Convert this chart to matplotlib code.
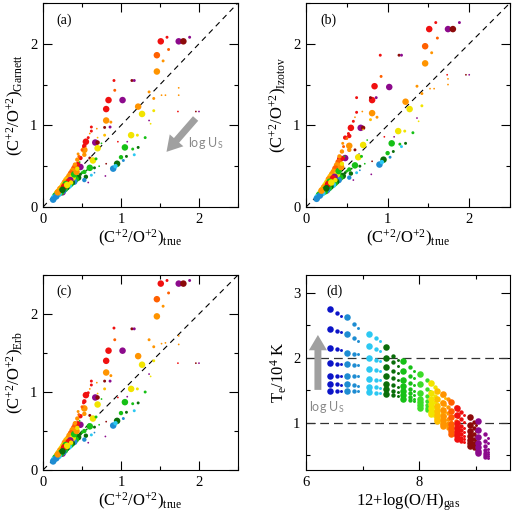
import numpy as np
import matplotlib
matplotlib.use("Agg")
from matplotlib import pyplot as plt
from matplotlib.ticker import MultipleLocator

# colour codes: metallicity groups, low -> high
palette = {
    "B": "#0c14c8", "SB": "#1e8cd2", "CY": "#2cc8f2", "DG": "#0a6e0a",
    "G": "#16c016", "LG": "#3cdc28", "Y": "#f2e400", "YO": "#ffbe00",
    "O": "#ff9400", "OR": "#ff6000", "R": "#f01010", "DR": "#8c0a0a",
    "P": "#8c0a8c",
}
sizes = {"L": 22, "M": 10, "S": 4.5, "T": 1.6}

# ---- panels a-c: C+2/O+2 true vs. estimates ----
c_true = [1.51, 1.59, 1.74, 1.80, 1.88, 1.61, 1.46, 1.54, 1.46, 0.91,
          1.14, 1.17, 0.92, 0.84, 1.02, 0.81, 0.81, 0.87, 0.79, 0.86,
          0.62, 0.62, 0.69, 0.79, 1.22, 1.36, 1.42, 1.27, 1.42, 1.52,
          1.57, 1.74, 1.74, 1.73, 1.96, 2.00, 1.36, 1.38, 1.13, 1.21,
          1.31, 0.96, 1.08, 1.05, 1.15, 1.22, 1.17, 1.00, 1.07, 1.03,
          0.95, 0.90, 0.93, 0.55, 0.67, 0.70, 0.70, 0.53, 0.53, 0.53,
          0.48, 0.60, 0.64, 0.68, 0.81, 0.80, 0.60, 0.66, 0.53, 0.55,
          0.48, 0.53, 0.62, 0.31, 0.25,
          0.45, 0.42, 0.40, 0.38, 0.36, 0.34, 0.32, 0.30, 0.28, 0.26,
          0.24, 0.22, 0.20, 0.18, 0.16, 0.14, 0.13,
          0.45, 0.42, 0.40, 0.37, 0.35, 0.33, 0.30, 0.28, 0.26, 0.23,
          0.20, 0.17,
          0.38, 0.40, 0.35, 0.43, 0.44, 0.33, 0.29, 0.27, 0.22, 0.19,
          0.25, 0.36, 0.31,
          0.50, 0.58, 0.47, 0.56, 0.66, 0.72, 0.41, 0.44, 0.46, 0.45,
          0.50, 0.52, 0.58, 0.60, 0.70, 0.75, 0.48]
c_garnett = [2.03, 2.08, 2.03, 2.03, 2.08, 1.93, 1.86, 1.79, 1.66, 1.55,
             1.55, 1.55, 1.43, 1.31, 1.31, 1.20, 1.06, 1.04, 0.975, 0.98,
             0.98, 0.93, 0.96, 0.88, 1.23, 1.41, 1.33, 1.14, 1.18, 1.37,
             1.37, 1.46, 1.37, 1.17, 1.17, 1.17, 1.06, 1.02, 0.88, 0.88,
             0.85, 0.80, 0.80, 0.73, 0.71, 0.73, 0.64, 0.61, 0.62, 0.57,
             0.53, 0.47, 0.50, 0.80, 0.79, 0.79, 0.72, 0.75, 0.70, 0.64,
             0.60, 0.60, 0.57, 0.59, 0.53, 0.38, 0.48, 0.48, 0.43, 0.37,
             0.49, 0.33, 0.39, 0.25, 0.18,
             0.53, 0.50, 0.47, 0.44, 0.41, 0.38, 0.35, 0.33, 0.30, 0.27,
             0.24, 0.22, 0.19, 0.17, 0.14, 0.11, 0.09,
             0.36, 0.34, 0.31, 0.30, 0.28, 0.26, 0.24, 0.22, 0.20, 0.18,
             0.16, 0.13,
             0.36, 0.40, 0.33, 0.43, 0.47, 0.31, 0.28, 0.25, 0.20, 0.18,
             0.21, 0.30, 0.27,
             0.42, 0.30, 0.55, 0.45, 0.42, 0.50, 0.52, 0.58, 0.62, 0.65,
             0.70, 0.74, 0.85, 0.90, 0.85, 0.78, 0.40]
c_izotov = [2.18, 2.26, 2.18, 2.18, 2.26, 2.07, 1.97, 1.89, 1.76, 1.86,
            1.86, 1.86, 1.60, 1.48, 1.47, 1.31, 1.15, 1.10, 1.34, 1.34,
            1.34, 1.16, 1.17, 1.07, 1.29, 1.48, 1.39, 1.20, 1.24, 1.45,
            1.45, 1.50, 1.57, 1.62, 1.62, 1.62, 1.09, 1.05, 0.93, 0.93,
            0.91, 0.86, 0.86, 0.78, 0.77, 0.78, 0.74, 0.66, 0.68, 0.61,
            0.58, 0.52, 0.55, 0.97, 0.97, 0.97, 0.76, 0.87, 0.75, 0.70,
            0.85, 0.70, 0.61, 0.62, 0.56, 0.40, 0.51, 0.50, 0.46, 0.41,
            0.60, 0.36, 0.42, 0.27, 0.20,
            0.60, 0.59, 0.55, 0.51, 0.47, 0.43, 0.40, 0.37, 0.34, 0.30,
            0.27, 0.24, 0.21, 0.18, 0.15, 0.12, 0.10,
            0.38, 0.36, 0.33, 0.31, 0.29, 0.27, 0.25, 0.23, 0.21, 0.19,
            0.17, 0.14,
            0.40, 0.44, 0.37, 0.49, 0.53, 0.35, 0.31, 0.28, 0.22, 0.20,
            0.23, 0.33, 0.30,
            0.44, 0.33, 0.62, 0.47, 0.45, 0.53, 0.62, 0.68, 0.74, 0.78,
            0.84, 0.90, 1.05, 1.10, 0.95, 0.82, 0.42]
c_erb = [2.39, 2.43, 2.39, 2.39, 2.43, 2.27, 2.19, 2.10, 1.97, 1.82,
         1.81, 1.81, 1.67, 1.53, 1.53, 1.40, 1.25, 1.21, 1.14, 1.14,
         1.14, 1.09, 1.12, 1.04, 1.46, 1.67, 1.58, 1.35, 1.40, 1.62,
         1.63, 1.72, 1.61, 1.37, 1.37, 1.37, 1.23, 1.20, 1.04, 1.04,
         1.00, 0.93, 0.94, 0.87, 0.85, 0.86, 0.76, 0.73, 0.74, 0.66,
         0.63, 0.57, 0.60, 0.96, 0.93, 0.93, 0.84, 0.88, 0.79, 0.72,
         0.69, 0.70, 0.66, 0.68, 0.62, 0.43, 0.56, 0.55, 0.50, 0.44,
         0.58, 0.39, 0.45, 0.29, 0.21,
         0.60, 0.58, 0.54, 0.51, 0.47, 0.44, 0.40, 0.38, 0.35, 0.31,
         0.28, 0.25, 0.22, 0.19, 0.16, 0.13, 0.11,
         0.42, 0.39, 0.36, 0.34, 0.32, 0.30, 0.28, 0.25, 0.23, 0.21,
         0.18, 0.15,
         0.41, 0.46, 0.38, 0.50, 0.54, 0.36, 0.32, 0.29, 0.23, 0.20,
         0.24, 0.35, 0.31,
         0.48, 0.35, 0.63, 0.52, 0.48, 0.58, 0.60, 0.66, 0.71, 0.75,
         0.81, 0.86, 0.99, 1.04, 0.98, 0.91, 0.46]
c_col = ["R", "R", "P", "DR", "P", "OR", "OR", "O", "O", "R",
         "DR", "P", "OR", "R", "P", "R", "O", "O", "DR", "P",
         "R", "R", "O", "YO", "O", "O", "O", "Y", "Y", "O",
         "O", "O", "O", "R", "DR", "P", "P", "Y", "Y", "Y",
         "G", "R", "P", "G", "G", "DG", "CY", "G", "DG", "SB",
         "DG", "SB", "CY", "R", "P", "DR", "Y", "R", "O", "O",
         "R", "DR", "Y", "G", "DR", "P", "G", "DG", "G", "DG",
         "P", "SB", "CY", "P", "P",
         "R", "R", "OR", "O", "OR", "O", "O", "YO", "O", "YO",
         "Y", "O", "YO", "Y", "G", "CY", "SB",
         "DG", "G", "SB", "DG", "G", "CY", "DG", "G", "SB", "G",
         "CY", "SB",
         "Y", "G", "P", "O", "Y", "R", "G", "R", "G", "O",
         "DG", "Y", "Y",
         "G", "P", "G", "DG", "SB", "G", "O", "O", "OR", "O",
         "OR", "R", "R", "O", "YO", "G", "DG"]
c_size = ["L", "S", "L", "L", "S", "S", "L", "S", "L", "S",
          "S", "S", "S", "L", "L", "L", "L", "S", "S", "S",
          "S", "S", "T", "S", "L", "S", "S", "L", "S", "T",
          "T", "T", "T", "T", "T", "T", "T", "T", "L", "S",
          "S", "T", "T", "L", "S", "S", "S", "M", "S", "S",
          "L", "L", "M", "L", "L", "M", "L", "M", "L", "M",
          "M", "S", "L", "S", "T", "T", "L", "S", "M", "M",
          "L", "M", "S", "L", "L",
          "M", "L", "L", "L", "L", "L", "L", "L", "L", "L",
          "L", "L", "L", "L", "L", "L", "L",
          "L", "L", "L", "L", "L", "L", "L", "L", "L", "L",
          "L", "L",
          "L", "L", "L", "L", "M", "L", "L", "L", "M", "L",
          "L", "M", "L",
          "S", "T", "T", "T", "T", "T", "M", "M", "S", "S",
          "S", "S", "S", "T", "T", "T", "S"]

# ---- panel d: Te vs gas-phase O/H, 7 log U values per group ----
d_groups = ["B", "SB", "CY", "DG", "G", "LG", "Y", "YO", "O", "OR", "R", "DR", "P"]
d_x = [[6.42, 6.55, 6.62], [6.72, 6.84, 6.92], [7.12, 7.24, 7.31],
       [7.41, 7.54, 7.62], [7.72, 7.84, 7.91], [8.02, 8.13, 8.18],
       [8.20, 8.28, 8.33], [8.32, 8.40, 8.45], [8.42, 8.50, 8.55],
       [8.56, 8.64, 8.69], [8.66, 8.74, 8.79], [8.89, 8.96, 9.00],
       [9.03, 9.16, 9.22]]
d_te_big = [[2.74, 2.44, 2.15, 1.91, 1.72, 1.59, 1.49],
            [2.62, 2.36, 2.07, 1.90, 1.72, 1.59, 1.49],
            [2.37, 2.18, 2.00, 1.82, 1.67, 1.55, 1.47],
            [2.16, 1.99, 1.85, 1.71, 1.60, 1.51, 1.44],
            [1.95, 1.79, 1.66, 1.56, 1.48, 1.42, 1.37],
            [1.74, 1.60, 1.46, 1.37, 1.31, 1.27, 1.23],
            [1.61, 1.46, 1.36, 1.28, 1.22, 1.16, 1.13],
            [1.49, 1.36, 1.26, 1.18, 1.11, 1.06, 1.02],
            [1.44, 1.30, 1.19, 1.10, 1.04, 0.98, 0.95],
            [1.31, 1.18, 1.08, 0.98, 0.92, 0.87, 0.82],
            [1.23, 1.11, 1.00, 0.92, 0.86, 0.81, 0.75],
            [1.08, 0.97, 0.87, 0.79, 0.73, 0.68, 0.64],
            [1.03, 0.89, 0.78, 0.68, 0.62, 0.56, 0.53]]
d_te_mid = [[2.68, 2.41, 2.13, 1.90, 1.72, 1.59, 1.49],
            [2.52, 2.30, 2.06, 1.89, 1.72, 1.58, 1.48],
            [2.30, 2.13, 1.97, 1.81, 1.66, 1.54, 1.46],
            [2.02, 1.93, 1.80, 1.68, 1.58, 1.49, 1.43],
            [1.85, 1.72, 1.61, 1.52, 1.45, 1.39, 1.35],
            [1.65, 1.52, 1.41, 1.33, 1.27, 1.23, 1.20],
            [1.55, 1.41, 1.31, 1.24, 1.18, 1.13, 1.10],
            [1.43, 1.31, 1.21, 1.13, 1.07, 1.02, 0.99],
            [1.37, 1.24, 1.14, 1.06, 1.00, 0.95, 0.92],
            [1.24, 1.12, 1.03, 0.94, 0.88, 0.83, 0.79],
            [1.16, 1.05, 0.95, 0.88, 0.82, 0.77, 0.72],
            [1.01, 0.91, 0.82, 0.75, 0.69, 0.65, 0.61],
            [0.82, 0.72, 0.64, 0.58, 0.53, 0.50, 0.47]]
d_te_small = [[2.64, 2.39, 2.11, 1.90, 1.72, 1.58, 1.49],
              [2.45, 2.25, 2.05, 1.88, 1.71, 1.57, 1.48],
              [2.25, 2.10, 1.95, 1.80, 1.65, 1.53, 1.45],
              [1.96, 1.87, 1.76, 1.65, 1.55, 1.47, 1.41],
              [1.80, 1.68, 1.58, 1.49, 1.43, 1.37, 1.33],
              [1.60, 1.48, 1.38, 1.30, 1.25, 1.21, 1.18],
              [1.50, 1.37, 1.28, 1.21, 1.15, 1.10, 1.07],
              [1.38, 1.27, 1.17, 1.10, 1.04, 0.99, 0.96],
              [1.32, 1.20, 1.10, 1.02, 0.97, 0.92, 0.89],
              [1.19, 1.08, 0.99, 0.91, 0.85, 0.80, 0.77],
              [1.11, 1.01, 0.92, 0.85, 0.79, 0.74, 0.70],
              [0.96, 0.87, 0.79, 0.72, 0.66, 0.62, 0.59],
              [0.76, 0.68, 0.60, 0.55, 0.51, 0.48, 0.45]]

plt.rcParams["font.family"] = "Liberation Serif"
plt.rcParams["mathtext.fontset"] = "custom"
plt.rcParams["mathtext.rm"] = "Liberation Serif"
plt.rcParams["mathtext.it"] = "Liberation Serif:italic"
plt.rcParams["mathtext.sf"] = "Lato"


def style(ax):
    ax.tick_params(which="both", direction="in", top=True, right=True,
                   labelsize=10.5, pad=4, width=0.8)
    ax.tick_params(which="major", length=6.5)
    ax.tick_params(which="minor", length=3)
    for sp in ax.spines.values():
        sp.set_linewidth(0.8)


def ratio_panel(ax, yvals, ylab, tag):
    ax.plot([0, 2.5], [0, 2.5], color="k", lw=0.8, dashes=(5, 4))
    ax.scatter(c_true, yvals, s=[sizes[k] for k in c_size],
               c=[palette[k] for k in c_col], linewidths=0, zorder=3)
    ax.set_xlim(0, 2.5)
    ax.set_ylim(0, 2.5)
    ax.xaxis.set_major_locator(MultipleLocator(1))
    ax.xaxis.set_minor_locator(MultipleLocator(0.5))
    ax.yaxis.set_major_locator(MultipleLocator(1))
    ax.yaxis.set_minor_locator(MultipleLocator(0.5))
    ax.set_xlabel(r"(C$^{+2}$/O$^{+2}$)$_{\rm true}$", fontsize=12, labelpad=2)
    ax.set_ylabel(ylab, fontsize=12, labelpad=3)
    ax.text(0.07, 0.9, tag, transform=ax.transAxes, fontsize=10)
    style(ax)


fig = plt.figure(figsize=(5.15, 5.13), dpi=100)
ax_a = fig.add_axes([0.0835, 0.5965, 0.3786, 0.3977])
ax_b = fig.add_axes([0.5942, 0.5965, 0.3961, 0.3977])
ax_c = fig.add_axes([0.0835, 0.0838, 0.3786, 0.3801])
ax_d = fig.add_axes([0.5942, 0.0838, 0.3961, 0.3801])

ratio_panel(ax_a, c_garnett, r"(C$^{+2}$/O$^{+2}$)$_{\rm Garnett}$", "(a)")
ratio_panel(ax_b, c_izotov, r"(C$^{+2}$/O$^{+2}$)$_{\rm Izotov}$", "(b)")
ratio_panel(ax_c, c_erb, r"(C$^{+2}$/O$^{+2}$)$_{\rm Erb}$", "(c)")

grey = "#a0a0a0"
ax_a.annotate("", xy=(1.56, 0.65), xytext=(1.98, 1.11),
              arrowprops=dict(arrowstyle="simple,head_width=1.3,head_length=1.1,tail_width=0.5",
                              mutation_scale=10, color=grey, lw=0))
ax_a.text(1.86, 0.74, r"log U$_{\mathsf{S}}$", color="#888888", fontsize=9, family="Lato")

# panel d
for g, xs, yb, ym, ys in zip(d_groups, d_x, d_te_big, d_te_mid, d_te_small):
    ax_d.scatter([xs[2]] * 7, ys, s=sizes["S"], c=palette[g], linewidths=0, zorder=3)
    ax_d.scatter([xs[1]] * 7, ym, s=sizes["M"], c=palette[g], linewidths=0, zorder=3)
    ax_d.scatter([xs[0]] * 7, yb, s=sizes["L"], c=palette[g], linewidths=0, zorder=3)
for lev in (1, 2):
    ax_d.axhline(lev, color="#333333", lw=0.9, dashes=(7, 4))
ax_d.set_xlim(6, 9.6)
ax_d.set_ylim(0.27, 3.27)
ax_d.xaxis.set_major_locator(MultipleLocator(2))
ax_d.xaxis.set_minor_locator(MultipleLocator(1))
ax_d.yaxis.set_major_locator(MultipleLocator(1))
ax_d.yaxis.set_minor_locator(MultipleLocator(0.5))
ax_d.set_xlabel(r"12+log(O/H)$_{\rm gas}$", fontsize=12, labelpad=2)
ax_d.set_ylabel(r"T$_{\rm e}$/10$^{4}$ K", fontsize=12, labelpad=3)
ax_d.text(0.1, 0.9, "(d)", transform=ax_d.transAxes, fontsize=10)
style(ax_d)
ax_d.annotate("", xy=(6.21, 2.39), xytext=(6.21, 1.46),
              arrowprops=dict(arrowstyle="simple,head_width=1.3,head_length=1.1,tail_width=0.5",
                              mutation_scale=10, color=grey, lw=0))
ax_d.text(6.06, 1.18, r"log U$_{\mathsf{S}}$", color="#888888", fontsize=9, family="Lato")

fig.savefig("out.png", dpi=100)
